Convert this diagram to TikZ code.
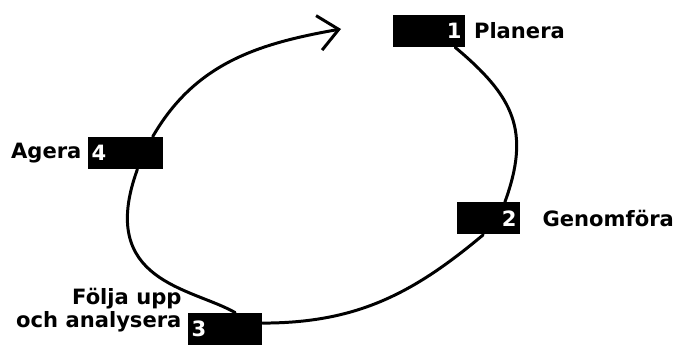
\documentclass[tikz,border=0pt]{standalone}
\usepackage{fontspec}
\setmainfont{DejaVu Sans}
\usetikzlibrary{positioning,arrows.meta}
\tikzset{
  nrbox/.style={fill=black, text=white, font=\bfseries\fontsize{12}{14}\selectfont, minimum height=0.64cm, inner xsep=0.07cm, inner ysep=0pt, text width=#1},
  nrboxr/.style={nrbox=#1, align=right},
  nrboxl/.style={nrbox=#1, align=left},
  lbl/.style={font=\bfseries\fontsize{12}{14}\selectfont},
  cykel/.style={line width=1.7pt, line cap=round},
}

\begin{document}
\begin{tikzpicture}[x=0.02cm,y=0.02cm]
\useasboundingbox (0,0) rectangle (678,347);
\node[nrboxr=1.3cm] (b1) at (429,316) {1};
\node[nrboxr=1.12cm] (b2) at (488.5,128.5) {2};
\node[nrboxl=1.34cm] (b3) at (225,18) {3};
\node[nrboxl=1.36cm] (b4) at (125.5,194) {4};
\node[lbl, right=0.05cm of b1] (planera) {Planera};
\node[lbl, right=0.32cm of b2] (genomfora) {Genomföra};
\node[lbl, left=0cm of b4] (agera) {Agera};
\node[lbl, align=right, anchor=south east] (folja) at ([yshift=0.14cm]b3.south west) {Följa upp\\[-1pt]och analysera};
\coordinate (pil) at (341,318);
\draw[cykel] (b1.-32) to[out=-40,in=70,looseness=1.2] (b2.45);
\draw[cykel] (b2.-108) to[out=-140,in=0] (b3.9);
\draw[cykel] (b3.58) .. controls +(150:50) and +(-110:120) .. (b4.-54);
\draw[cykel, -{Straight Barb[length=0.4cm,width=0.7cm]}] (b4.31) to[out=60,in=190] (pil);
\end{tikzpicture}
\end{document}
